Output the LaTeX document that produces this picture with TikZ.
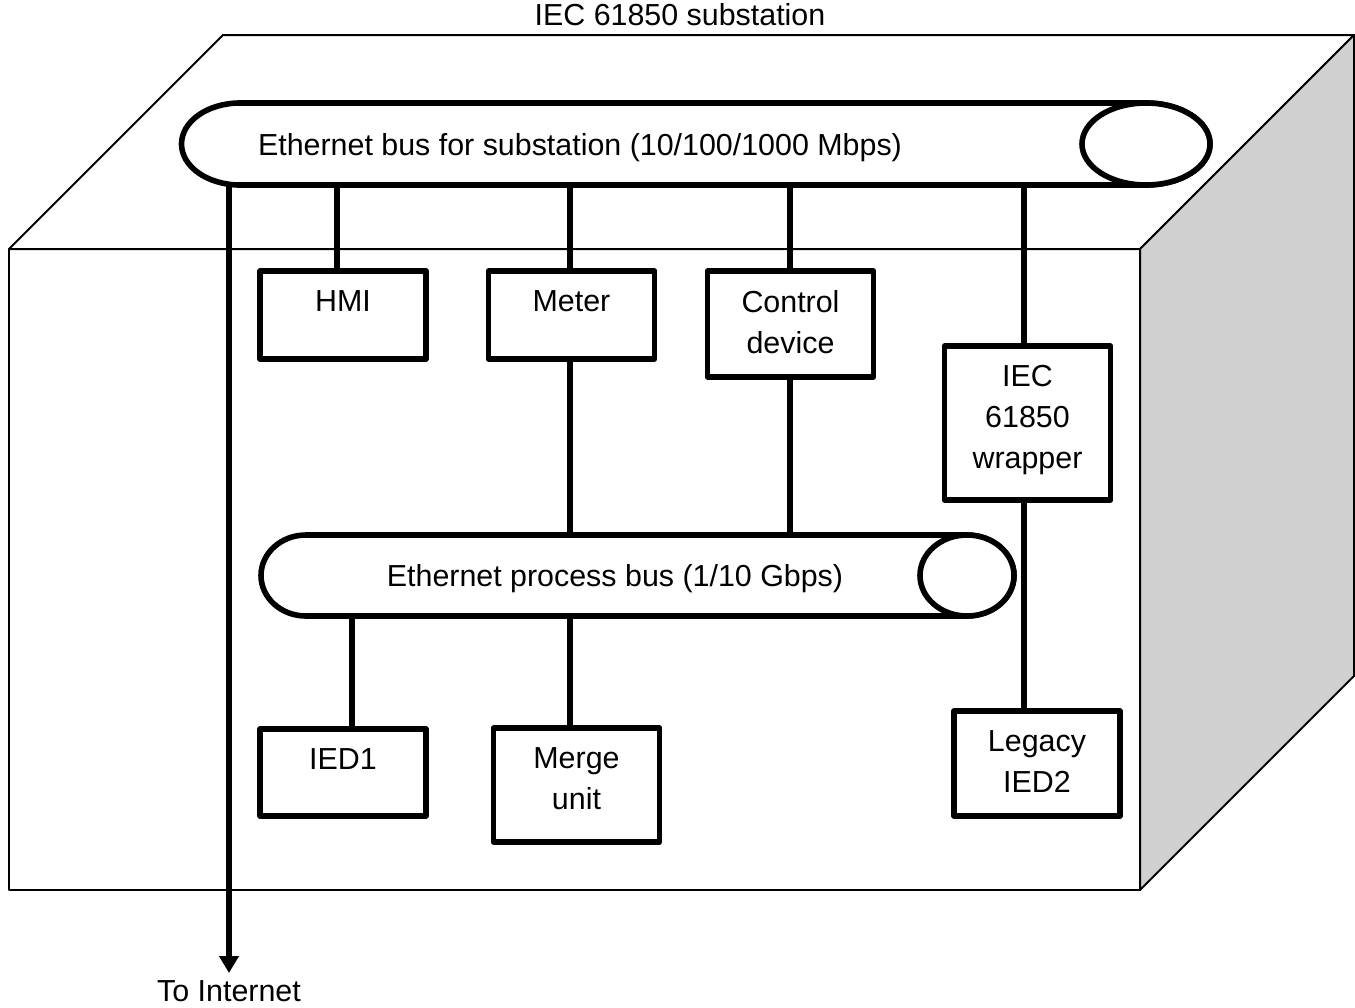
\documentclass[tikz,border=0pt]{standalone}
\usepackage{fontspec}
\setmainfont{Liberation Sans}
\usepackage{xcolor}
\usetikzlibrary{arrows.meta,positioning}
\definecolor{sidegray}{HTML}{D0D0D0}

\begin{document}
\begin{tikzpicture}[
	x={(0.5pt,0)},
	y={(0,-0.5pt)},
	line join=round,
	font=\fontsize{15.2}{20.5}\selectfont,
	cube/.style={line width=1pt},
	bus/.style={line width=2.8pt, fill=white},
	link/.style={line width=2.8pt},
	dev/.style={draw, line width=2.8pt, fill=white, minimum width=83pt, inner sep=0pt, outer sep=0pt},
	devtxt/.style={align=center, inner sep=0pt},
	buslbl/.style={inner sep=0pt, outer sep=0pt, text depth=0pt}
	]
	
	\useasboundingbox (0,0) rectangle (1355,1007);
	
	%------------------------------
	% The substation box
	%------------------------------
	\draw[cube, fill=white] (9,249) -- (223,35) -- (1354,35) -- (1140,249) -- cycle;
	\draw[cube, fill=sidegray] (1140,249) -- (1354,35) -- (1354,676) -- (1140,890) -- cycle;
	\draw[cube] (9,249) rectangle (1140,890);
	
	\node[anchor=north, inner sep=0pt] (title) at (680,3) {IEC 61850 substation};
	
	%------------------------------
	% The two buses
	%------------------------------
	\draw[bus] (240,103) -- (1146,103) arc[start angle=-90, end angle=90, x radius=64, y radius=41]
		-- (240,185) arc[start angle=90, end angle=270, x radius=58.5, y radius=41] -- cycle;
	\draw[bus] (1146,144) ellipse[x radius=64, y radius=41];
	\node[buslbl, minimum height=41pt] (sbus) at (580,144) {Ethernet bus for substation (10/100/1000 Mbps)};
	
	\draw[bus] (306,535) -- (967,535) arc[start angle=-90, end angle=90, x radius=47, y radius=40.5]
		-- (306,616) arc[start angle=90, end angle=270, x radius=45, y radius=40.5] -- cycle;
	\draw[bus] (967,575.5) ellipse[x radius=47, y radius=40.5];
	\node[buslbl, minimum height=40.5pt] (pbus) at (615,575.5) {Ethernet process bus (1/10 Gbps)};
	
	%------------------------------
	% Devices
	%------------------------------
	\node[dev, minimum height=44pt] (hmi) at (343,315) {};
	\node[dev, minimum height=44pt] (meter) at (571.5,315) {};
	\node[dev, minimum height=53pt] (ctrl) at (790.5,324) {};
	\node[dev, minimum height=77pt] (wrap) at (1027.5,423) {};
	\node[dev, minimum height=43.5pt] (ied1) at (343,772.5) {};
	\node[dev, minimum height=57pt] (merge) at (576.5,785) {};
	\node[dev, minimum height=52.5pt] (legacy) at (1037,763.5) {};
	
	\node[devtxt, below=9.5pt of hmi.north] (hmi-t) {HMI};
	\node[devtxt, below=9.5pt of meter.north] (meter-t) {Meter};
	\node[devtxt, below=9.5pt of ctrl.north] (ctrl-t) {Control\\device};
	\node[devtxt, below=9.5pt of wrap.north] (wrap-t) {IEC\\61850\\wrapper};
	\node[devtxt, below=9.5pt of ied1.north] (ied1-t) {IED1};
	\node[devtxt, below=9.5pt of merge.north] (merge-t) {Merge\\unit};
	\node[devtxt, below=9.5pt of legacy.north] (legacy-t) {Legacy\\IED2};
	
	%------------------------------
	% Links
	%------------------------------
	\foreach \x/\a/\b in {337/sbus.south/hmi.north, 570/sbus.south/meter.north,
		790/sbus.south/ctrl.north, 1024/sbus.south/wrap.north,
		570/meter.south/pbus.north, 790/ctrl.south/pbus.north,
		1024/wrap.south/legacy.north, 352/pbus.south/ied1.north,
		570/pbus.south/merge.north}{
		\draw[link] (\a -| \x,0) -- (\b -| \x,0);
	}
	
	\node[anchor=north, inner sep=0pt] (inet) at (229,980) {To Internet};
	\draw[link, -{Triangle[length=8.5pt, width=9.5pt]}, shorten >=3.5pt] (sbus.south -| inet.north) -- (inet.north);
\end{tikzpicture}
\end{document}
